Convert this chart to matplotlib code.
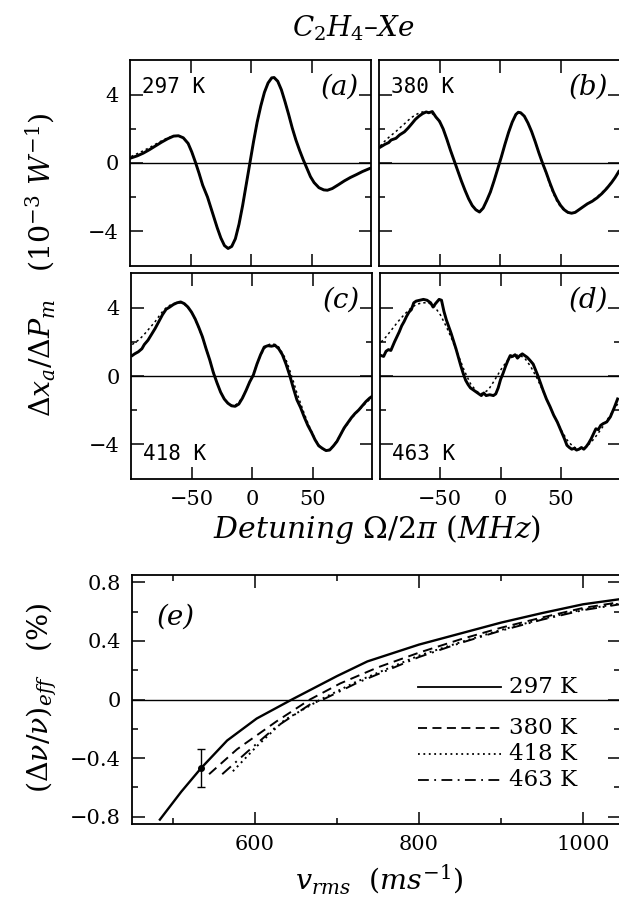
import matplotlib
matplotlib.use("Agg")
import matplotlib.pyplot as plt
from matplotlib.ticker import MultipleLocator, FixedLocator

plt.rcParams['font.family'] = ['DejaVu Serif']
plt.rcParams['mathtext.fontset'] = 'dejavuserif'

# ---------------- data: panels (a)-(d), detuning in MHz, signal in 1e-3 W^-1
det_a = [-99, -94, -89, -84, -79, -74, -69, -64, -60, -56, -52, -49, -46, -43, -40, -36, -32, -28,
         -25, -22, -19, -16, -13, -10, -7, -4, -1, 2, 5, 8, 11, 14, 17, 19, 22, 25, 28, 31, 34, 37,
         40, 43, 46, 49, 52, 56, 60, 63, 67, 72, 77, 82, 87, 92, 98]
sig_a = [0.30, 0.42, 0.58, 0.78, 1.00, 1.22, 1.42, 1.58, 1.60, 1.48, 1.15, 0.65, 0.05, -0.60,
         -1.30, -2.00, -2.90, -3.80, -4.40, -4.85, -5.02, -4.90, -4.45, -3.60, -2.50, -1.25, 0.00,
         1.25, 2.40, 3.35, 4.15, 4.70, 5.00, 5.02, 4.80, 4.30, 3.60, 2.85, 2.05, 1.35, 0.75, 0.20,
         -0.30, -0.80, -1.15, -1.45, -1.58, -1.60, -1.50, -1.28, -1.05, -0.85, -0.68, -0.50, -0.32]
fit_a = [0.38, 0.55, 0.72, 0.90, 1.10, 1.30, 1.47, 1.60, 1.60, 1.48, 1.15, 0.65, 0.05, -0.60,
         -1.30, -2.00, -2.90, -3.80, -4.40, -4.85, -5.02, -4.90, -4.45, -3.60, -2.50, -1.25, 0.00,
         1.25, 2.40, 3.35, 4.15, 4.70, 5.00, 5.02, 4.80, 4.30, 3.60, 2.85, 2.05, 1.35, 0.75, 0.20,
         -0.30, -0.80, -1.15, -1.45, -1.58, -1.60, -1.50, -1.28, -1.05, -0.85, -0.68, -0.50, -0.32]

det_b = [-99, -95, -92, -90, -86, -83, -79, -76, -73, -70, -67, -64, -61, -59, -56, -53, -50, -47,
         -44, -41, -38, -35, -32, -29, -26, -23, -20, -17, -14, -11, -8, -5, -2, 1, 4, 7, 10, 13,
         15, 17, 20, 23, 26, 29, 32, 35, 38, 41, 44, 47, 50, 53, 56, 59, 62, 65, 68, 72, 76, 80,
         84, 88, 92, 95, 98]
sig_b = [0.93, 1.10, 1.20, 1.35, 1.45, 1.65, 1.83, 2.05, 2.30, 2.56, 2.75, 2.90, 3.00, 2.95, 3.02,
         2.70, 2.45, 2.00, 1.40, 0.75, 0.15, -0.45, -1.05, -1.60, -2.10, -2.50, -2.75, -2.88,
         -2.65, -2.20, -1.70, -1.05, -0.35, 0.35, 1.10, 1.80, 2.40, 2.85, 2.98, 2.95, 2.75, 2.35,
         1.85, 1.25, 0.60, 0.00, -0.55, -1.15, -1.70, -2.15, -2.50, -2.75, -2.90, -2.95, -2.90,
         -2.75, -2.60, -2.40, -2.25, -2.05, -1.80, -1.50, -1.15, -0.85, -0.50]
fit_b = [1.00, 1.30, 1.50, 1.62, 1.85, 2.05, 2.30, 2.50, 2.68, 2.82, 2.93, 3.00, 3.00, 2.98, 2.90,
         2.70, 2.40, 2.00, 1.40, 0.75, 0.15, -0.45, -1.05, -1.60, -2.10, -2.50, -2.75, -2.85,
         -2.65, -2.20, -1.70, -1.05, -0.35, 0.35, 1.10, 1.80, 2.40, 2.85, 2.98, 2.95, 2.75, 2.35,
         1.85, 1.25, 0.60, 0.00, -0.60, -1.25, -1.80, -2.25, -2.58, -2.80, -2.92, -2.95, -2.88,
         -2.75, -2.60, -2.42, -2.22, -2.00, -1.75, -1.45, -1.12, -0.85, -0.55]

det_c = [-99, -97, -94, -91, -89, -86, -83, -80, -77, -74, -71, -68, -65, -62, -59, -56, -53, -50,
         -47, -44, -41, -38, -35, -32, -29, -26, -23, -20, -17, -14, -11, -8, -5, -2, 1, 4, 7, 10,
         13, 16, 19, 22, 25, 28, 31, 34, 37, 40, 43, 46, 49, 52, 55, 58, 61, 64, 67, 70, 73, 76,
         79, 82, 85, 88, 91, 94, 97, 99]
sig_c = [1.20, 1.30, 1.42, 1.60, 1.85, 2.10, 2.45, 2.80, 3.20, 3.60, 3.92, 4.05, 4.20, 4.30, 4.35,
         4.25, 4.05, 3.75, 3.35, 2.85, 2.30, 1.60, 0.95, 0.20, -0.40, -0.95, -1.35, -1.60, -1.75,
         -1.78, -1.65, -1.30, -0.85, -0.35, 0.05, 0.70, 1.25, 1.70, 1.78, 1.75, 1.80, 1.60, 1.25,
         0.70, 0.05, -0.70, -1.40, -1.85, -2.40, -2.90, -3.30, -3.75, -4.10, -4.25, -4.38, -4.35,
         -4.12, -3.85, -3.45, -3.05, -2.75, -2.45, -2.20, -2.00, -1.75, -1.50, -1.30, -1.20]
fit_c = [1.85, 1.95, 2.10, 2.30, 2.45, 2.70, 2.95, 3.20, 3.50, 3.78, 4.00, 4.15, 4.25, 4.30, 4.30,
         4.22, 4.02, 3.72, 3.32, 2.82, 2.25, 1.60, 0.95, 0.25, -0.40, -0.95, -1.35, -1.60, -1.72,
         -1.72, -1.55, -1.25, -0.85, -0.35, 0.15, 0.70, 1.20, 1.60, 1.82, 1.90, 1.85, 1.70, 1.35,
         0.95, 0.35, -0.30, -1.00, -1.60, -2.20, -2.75, -3.25, -3.70, -4.05, -4.28, -4.38, -4.30,
         -4.10, -3.80, -3.45, -3.10, -2.80, -2.50, -2.25, -2.02, -1.80, -1.58, -1.38, -1.25]

det_d = [-99, -97, -95, -93, -91, -88, -86, -84, -82, -80, -78, -76, -74, -72, -70, -67, -64, -61,
         -58, -56, -54, -51, -49, -47, -45, -43, -41, -39, -37, -35, -33, -31, -29, -27, -25, -22,
         -19, -16, -14, -12, -9, -6, -4, -2, 0, 2, 4, 6, 8, 10, 12, 14, 16, 18, 20, 22, 24, 27, 29,
         31, 33, 35, 38, 41, 44, 47, 50, 53, 55, 57, 59, 61, 63, 65, 67, 69, 71, 73, 75, 77, 79,
         81, 83, 85, 88, 91, 94, 97]
sig_d = [1.20, 1.15, 1.45, 1.55, 1.50, 2.00, 2.30, 2.60, 2.95, 3.20, 3.50, 3.75, 3.90, 4.30, 4.40,
         4.45, 4.50, 4.45, 4.30, 4.05, 4.25, 4.50, 4.45, 3.80, 3.30, 2.90, 2.50, 2.05, 1.60, 1.10,
         0.60, 0.15, -0.25, -0.50, -0.70, -0.85, -1.00, -1.15, -1.00, -1.15, -1.10, -1.15, -1.05,
         -0.70, -0.20, 0.15, 0.55, 0.90, 1.20, 1.15, 1.25, 1.05, 1.20, 1.30, 1.20, 1.10, 0.95,
         0.70, 0.35, 0.00, -0.40, -0.80, -1.35, -1.80, -2.30, -2.70, -3.20, -3.70, -4.07, -4.20,
         -4.30, -4.25, -4.35, -4.30, -4.20, -4.30, -4.15, -3.95, -3.70, -3.40, -3.10, -3.15, -2.90,
         -2.80, -2.70, -2.40, -1.90, -1.35]
det_fd = [-99, -95, -90, -85, -80, -75, -70, -65, -60, -55, -50, -45, -40, -35, -30, -25, -20, -15,
          -10, -5, 0, 5, 10, 15, 20, 25, 30, 35, 40, 45, 50, 55, 60, 65, 70, 75, 80, 85, 90, 95, 99]
fit_d = [2.00, 2.30, 2.75, 3.20, 3.60, 3.95, 4.20, 4.30, 4.30, 4.10, 3.60, 2.90, 2.10, 1.20, 0.30,
         -0.45, -0.90, -1.05, -0.80, -0.25, 0.35, 0.85, 1.15, 1.25, 1.05, 0.55, -0.10, -0.85, -1.65,
         -2.45, -3.15, -3.75, -4.15, -4.30, -4.20, -3.90, -3.45, -2.95, -2.40, -1.85, -1.45]

temps_top = ['297 K', '380 K', '418 K', '463 K']
panel_tags = ['(a)', '(b)', '(c)', '(d)']

# ---------------- data: panel (e), v_rms in m/s, shift in %
v_297 = [484, 510, 534, 566, 602, 645, 700, 737, 800, 850, 900, 950, 1000, 1045]
s_297 = [-0.82, -0.63, -0.47, -0.28, -0.13, 0.00, 0.16, 0.26, 0.375, 0.45, 0.525, 0.59, 0.65, 0.685]
v_380 = [544, 578, 626, 667, 704, 750, 800, 850, 900, 950, 1000, 1045]
s_380 = [-0.51, -0.34, -0.15, 0.00, 0.11, 0.22, 0.32, 0.41, 0.49, 0.56, 0.625, 0.665]
v_418 = [573, 602, 636, 680, 723, 770, 800, 850, 900, 950, 1000, 1045]
s_418 = [-0.49, -0.32, -0.14, 0.00, 0.12, 0.23, 0.30, 0.39, 0.475, 0.55, 0.615, 0.655]
v_463 = [560, 590, 625, 668, 683, 725, 770, 800, 850, 900, 950, 1000, 1045]
s_463 = [-0.51, -0.36, -0.19, -0.03, 0.00, 0.115, 0.22, 0.29, 0.385, 0.47, 0.545, 0.61, 0.65]
err_v = [534]
err_s = [-0.47]
err_e = [0.13]
legend_labels = ['297 K', '380 K', '418 K', '463 K']

# ---------------- figure
W, H = 619, 899
fig = plt.figure(figsize=(W / 100, H / 100), dpi=100)

def box(l, r, t, b):
    return [l / W, 1 - b / H, (r - l) / W, (b - t) / H]

TICKFS = 15

def style(ax):
    for s in ax.spines.values():
        s.set_linewidth(1.3)
    ax.tick_params(which='both', direction='in', top=True, right=True, width=1.1,
                   labelsize=TICKFS, pad=8)
    ax.tick_params(which='major', length=9)
    ax.tick_params(which='minor', length=4.5)

rects = [box(130, 371, 60, 266), box(379, 620, 60, 266),
         box(131, 372, 273, 479), box(380, 620, 273, 479)]
dets = [det_a, det_b, det_c, det_d]
sigs = [sig_a, sig_b, sig_c, sig_d]
fdets = [det_a, det_b, det_c, det_fd]
fits = [fit_a, fit_b, fit_c, fit_d]

for i in range(4):
    ax = fig.add_axes(rects[i])
    ax.axhline(0, color='black', lw=1.0)
    ax.plot(fdets[i], fits[i], color='black', lw=1.1, ls=(0, (1.5, 2)))
    ax.plot(dets[i], sigs[i], color='black', lw=2.1, solid_joinstyle='round')
    ax.set_xlim(-100, 99)
    ax.set_ylim(-6.05, 6.05)
    ax.xaxis.set_major_locator(FixedLocator([-50, 0, 50]))
    ax.yaxis.set_major_locator(FixedLocator([-4, 0, 4]))
    ax.yaxis.set_minor_locator(FixedLocator([-2, 2]))
    style(ax)
    if i < 2:
        ax.tick_params(labelbottom=False)
    else:
        ax.set_xticklabels(['\u221250', '0', '50'])
    if i % 2 == 1:
        ax.tick_params(labelleft=False)
    else:
        ax.set_yticklabels(['\u22124', '0', '4'])
    ty = 0.87 if i < 2 else 0.12
    ax.text(0.05, ty, temps_top[i], transform=ax.transAxes, fontsize=15,
            ha='left', va='center', family='DejaVu Sans Mono')
    ax.text(0.95, 0.87, panel_tags[i], transform=ax.transAxes, fontsize=20,
            ha='right', va='center', style='italic')

fig.text(353 / W, 1 - 28 / H, r'$C_2H_4$' + '\u2013' + r'$Xe$', fontsize=20,
         ha='center', va='center')
fig.text(40 / W, 1 - 265 / H, r'$\Delta x_a/\Delta P_m\ \ \ (10^{-3}\ W^{-1})$', fontsize=20.5,
         rotation=90, ha='center', va='center')
fig.text(377 / W, 1 - 530 / H, r'$Detuning\ \Omega/2\pi\ (MHz)$', fontsize=21.5,
         ha='center', va='center')

# ---------------- panel (e)
ax = fig.add_axes(box(132, 620, 575, 824))
ax.axhline(0, color='black', lw=1.0)
ax.plot(v_297, s_297, color='black', lw=1.7, ls='-')
ax.plot(v_380, s_380, color='black', lw=1.4, ls=(0, (5, 3)))
ax.plot(v_418, s_418, color='black', lw=1.4, ls=(0, (1, 2)))
ax.plot(v_463, s_463, color='black', lw=1.4, ls=(0, (6, 3, 1, 3)))
ax.errorbar(err_v, err_s, yerr=err_e, fmt='o', color='black', ms=4, capsize=3, lw=1.0)
ax.set_xlim(450, 1045)
ax.set_ylim(-0.85, 0.85)
ax.xaxis.set_minor_locator(MultipleLocator(100))
ax.yaxis.set_minor_locator(MultipleLocator(0.2))
style(ax)
ax.set_yticks([-0.8, -0.4, 0, 0.4, 0.8])
ax.set_yticklabels(['\u22120.8', '\u22120.4', '0', '0.4', '0.8'])
ax.set_xticks([600, 800, 1000])
ax.set_xticklabels(['600', '800', '1000'])
ax.text(0.05, 0.83, '(e)', transform=ax.transAxes, fontsize=20, ha='left', va='center',
        style='italic')

# legend drawn manually in axes fraction coordinates
leg_y = [0.55, 0.386, 0.281, 0.177]
styles = [('-', 1.3), ((0, (5, 3)), 1.3), ((0, (1, 2)), 1.3), ((0, (6, 3, 1, 3)), 1.3)]
for (ls, lw), yy, lab in zip(styles, leg_y, legend_labels):
    ax.plot([0.587, 0.757], [yy, yy], transform=ax.transAxes, color='black', ls=ls, lw=lw)
    ax.text(0.772, yy, lab, transform=ax.transAxes, fontsize=16.5, ha='left', va='center')

fig.text(42 / W, 1 - 698 / H, r'$(\Delta\nu/\nu)_{eff}\ \ \ (\%)$', fontsize=20.5,
         rotation=90, ha='center', va='center')
fig.text(379 / W, 1 - 896 / H, r'$v_{rms}\ \ (ms^{-1})$', fontsize=20.5,
         ha='center', va='bottom')

fig.savefig('out.png', dpi=100)
